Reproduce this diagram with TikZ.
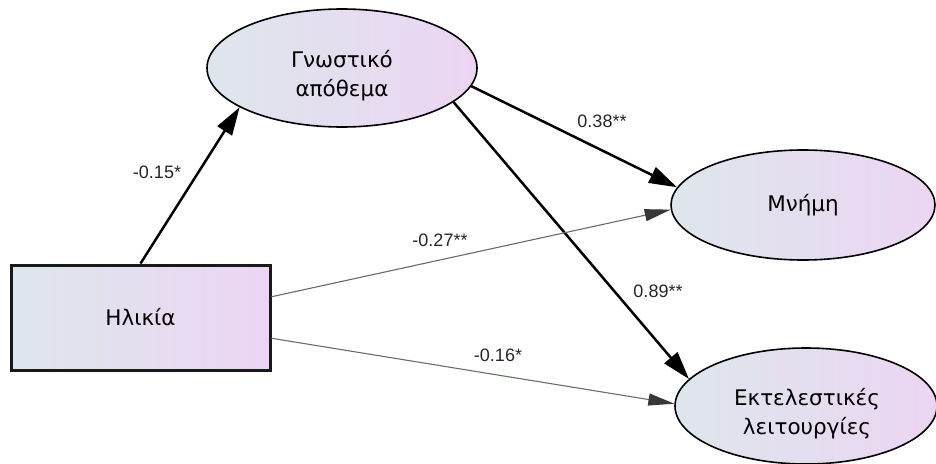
\documentclass[tikz,border=0pt]{standalone}
\usepackage{fontspec}
\setmainfont{DejaVu Sans}
\newfontfamily\labfont{Liberation Sans}
\usetikzlibrary{shapes.geometric,arrows.meta}
\definecolor{fillL}{RGB}{222,230,236}
\definecolor{fillR}{RGB}{236,213,243}
\definecolor{thinline}{RGB}{105,105,105}
\definecolor{thinhead}{RGB}{55,55,55}
\definecolor{greenline}{RGB}{95,115,95}
\tikzset{
  nodetext/.style={font=\fontsize{21.5}{29}\selectfont, align=center, text=black, inner sep=0pt},
  latent/.style={ellipse, draw=black, line width=1.6pt, left color=fillL, right color=fillR, inner sep=0pt},
  observed/.style={rectangle, draw=black!90, line width=3pt, left color=fillL, right color=fillR, inner sep=0pt, nodetext},
  strongpath/.style={line width=2.5pt, draw=black, -{Triangle[length=28pt,width=17pt]}},
  weakpath/.style={line width=1.1pt, draw=thinline, -{Triangle[length=26pt,width=12pt,color=thinhead]}},
  coef/.style={font=\labfont\fontsize{18}{21}\selectfont, text=black!85, inner sep=0pt}
}
\begin{document}
\begin{tikzpicture}[x=1pt,y=-1pt]
\useasboundingbox (0,0) rectangle (936,463);
\node[observed, minimum width=259pt, minimum height=105pt] (hl) at (140.5,317.5) {Ηλικία};
\node[latent, minimum width=270pt, minimum height=118pt] (gn) at (342,68) {};
\node[nodetext] (gnt) at (342,76) {Γνωστικό\\απόθεμα};
\node[latent, minimum width=264pt, minimum height=110pt] (mn) at (803,205) {};
\node[nodetext] (mnt) at (803,205) {Μνήμη};
\node[latent, minimum width=262pt, minimum height=116pt] (ek) at (806,406) {};
\node[nodetext] (ekt) at (807,414) {Εκτελεστικές\\λειτουργίες};

\draw[strongpath] (hl.north) -- (gn.201);
\draw[strongpath] (gn.352) -- (mn.172);
\draw[strongpath] (gn.343) -- (ek.167);
\draw[weakpath] (hl.9) -- (mn.182);
\draw[weakpath, draw=greenline] (hl.351) -- (ek.179);

\node[coef] (c1) at (157,172) {-0.15*};
\node[coef] (c2) at (602,121) {0.38**};
\node[coef] (c3) at (658,291) {0.89**};
\node[coef] (c4) at (440,240) {-0.27**};
\node[coef] (c5) at (498,355) {-0.16*};
\end{tikzpicture}
\end{document}
